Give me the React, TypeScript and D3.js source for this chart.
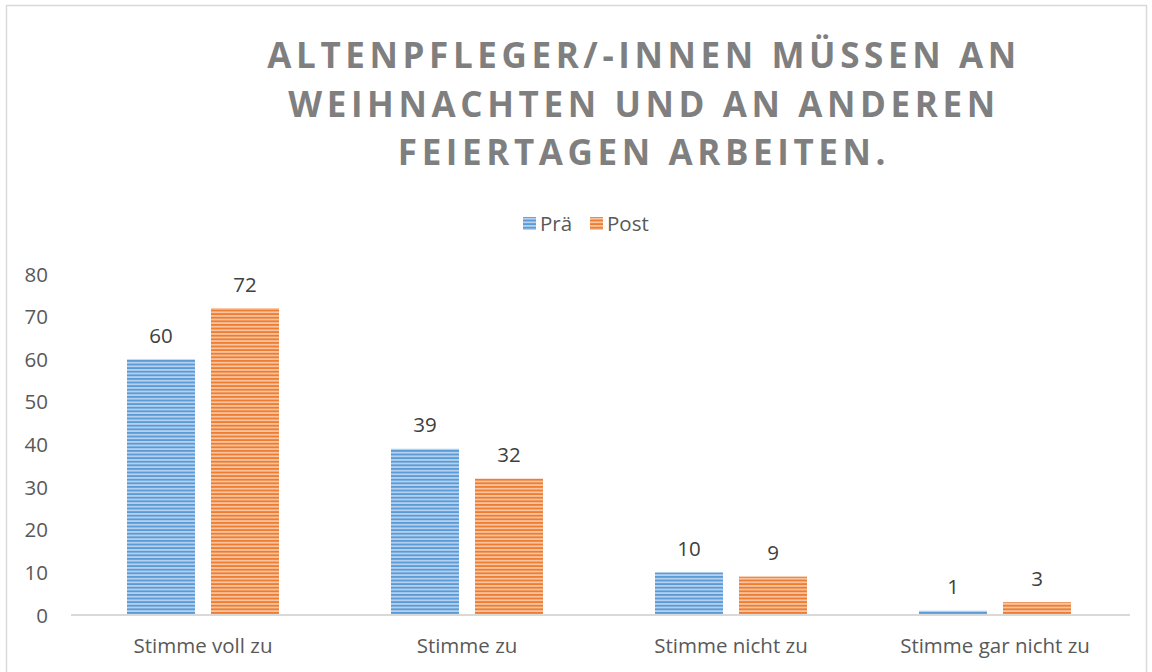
import React from "react";
import * as d3 from "d3";

const categories = ["Stimme voll zu", "Stimme zu", "Stimme nicht zu", "Stimme gar nicht zu"];
const seriesNames = ["Prä", "Post"];
const praeValues = [60, 39, 10, 1];
const postValues = [72, 32, 9, 3];
const yTicks = [0, 10, 20, 30, 40, 50, 60, 70, 80];
const titleLines = ["ALTENPFLEGER/-INNEN MÜSSEN AN", "WEIHNACHTEN UND AN ANDEREN", "FEIERTAGEN ARBEITEN."];

const W = 1152;
const H = 672;
const FONT = "'Open Sans', 'Liberation Sans', sans-serif";
const colors = [
  { dark: "#5b9bd5", light: "#b4d0ee" },
  { dark: "#ed7d31", light: "#f8c3a0" },
];

export default function App() {
  const plotLeft = 71;
  const plotRight = 1127;
  const baseY = 615;
  const topY = 274;

  const x0 = d3.scaleBand<string>().domain(categories).range([plotLeft, plotRight]).paddingInner(0).paddingOuter(0);
  const y = d3.scaleLinear().domain([0, 80]).range([baseY, topY]);
  const barW = 68;
  const gap = 16;
  const series = [praeValues, postValues];
  const fs = 20.5;

  return (
    <svg width={W} height={H} style={{ position: "absolute", left: 0, top: 0, background: "#fff" }} fontFamily={FONT}>
      <defs>
        {colors.map((c, i) => (
          <pattern key={i} id={`pat${i}`} patternUnits="userSpaceOnUse" width={8} height={3.6}>
            <rect width={8} height={3.6} fill={c.light} />
            <rect width={8} height={1.8} fill={c.dark} />
          </pattern>
        ))}
      </defs>
      <rect x={6.5} y={5.5} width={1140} height={700} fill="#fff" stroke="#d9d9d9" strokeWidth={1.5} />

      {titleLines.map((t, i) => (
        <text key={i} x={644} y={68 + i * 48.5} textAnchor="middle" fontSize={35} fontWeight={700}
          fill="#7f7f7f" letterSpacing={4.6}>{t}</text>
      ))}

      {/* legend */}
      <g>
        <rect x={523} y={217} width={13} height={13} fill="url(#pat0)" />
        <text x={540} y={231} fontSize={fs} fill="#595959">{seriesNames[0]}</text>
        <rect x={590} y={217} width={13} height={13} fill="url(#pat1)" />
        <text x={607} y={231} fontSize={fs} fill="#595959">{seriesNames[1]}</text>
      </g>

      {/* y ticks */}
      {yTicks.map((t) => (
        <text key={t} x={48} y={y(t) + 7.5} textAnchor="end" fontSize={fs} fill="#595959">{t}</text>
      ))}

      {/* bars */}
      {categories.map((c, ci) => {
        const cx = (x0(c) as number) + x0.bandwidth() / 2;
        return (
          <g key={c}>
            {series.map((vals, si) => {
              const bx = si === 0 ? cx - gap / 2 - barW : cx + gap / 2;
              const v = vals[ci];
              return (
                <g key={si}>
                  <rect x={bx} y={y(v)} width={barW} height={baseY - y(v)} fill={`url(#pat${si})`} />
                  <text x={bx + barW / 2} y={y(v) - 16.5} textAnchor="middle" fontSize={fs} fill="#404040">{v}</text>
                </g>
              );
            })}
            <text x={cx} y={653} textAnchor="middle" fontSize={fs} fill="#595959">{c}</text>
          </g>
        );
      })}

      <line x1={plotLeft} x2={plotRight + 3} y1={baseY} y2={baseY} stroke="#d9d9d9" strokeWidth={2} />
    </svg>
  );
}
